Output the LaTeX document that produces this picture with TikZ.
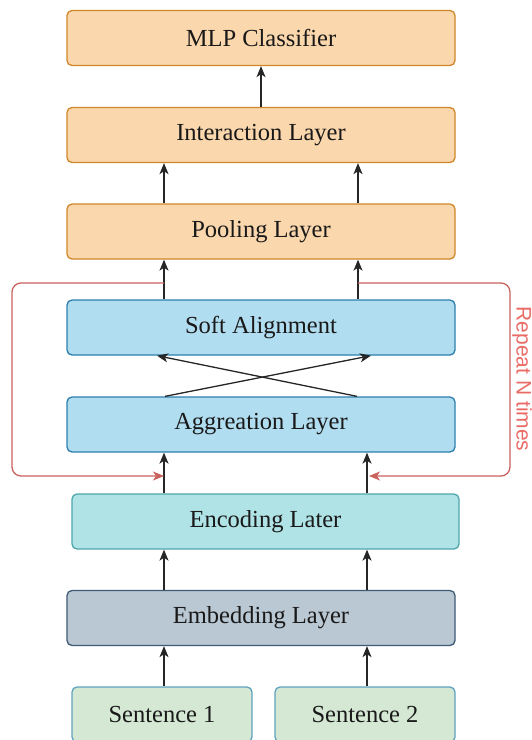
\documentclass[tikz,border=0pt]{standalone}
\usepackage{fontspec}
\setmainfont{Liberation Serif}
\newfontfamily\repfont{Liberation Sans}
\usetikzlibrary{arrows.meta}
\definecolor{orfill}{HTML}{FAD7AC}
\definecolor{ordraw}{HTML}{D0862A}
\definecolor{blfill}{HTML}{B1DDF0}
\definecolor{bldraw}{HTML}{2C7FAD}
\definecolor{tlfill}{HTML}{B0E3E6}
\definecolor{tldraw}{HTML}{4FA6AC}
\definecolor{gyfill}{HTML}{BAC8D3}
\definecolor{gydraw}{HTML}{3E5A74}
\definecolor{gnfill}{HTML}{D5E8D4}
\definecolor{gndraw}{HTML}{5FA2C0}
\definecolor{redline}{HTML}{C9615D}
\definecolor{redtext}{HTML}{EA6B66}
\tikzset{
  layer/.style={rectangle, rounded corners=5pt, line width=1.3pt, minimum height=55pt, inner sep=0pt, font=\fontsize{24.5}{28}\selectfont, text=black!90},
  orbox/.style={layer, fill=orfill, draw=ordraw, minimum width=388pt},
  blbox/.style={layer, fill=blfill, draw=bldraw, minimum width=388pt},
  tlbox/.style={layer, fill=tlfill, draw=tldraw, minimum width=387pt},
  gybox/.style={layer, fill=gyfill, draw=gydraw, minimum width=388pt},
  gnbox/.style={layer, fill=gnfill, draw=gndraw, minimum width=180pt},
  arr/.style={line width=1.3pt, black!85, -{Stealth[length=11pt,width=9pt,inset=3pt]}},
  rarr/.style={line width=1.3pt, redline, rounded corners=9pt, -{Stealth[length=11pt,width=9pt,inset=3pt]}}
}
\begin{document}
\begin{tikzpicture}[x=1pt,y=-1pt]
\useasboundingbox (0,0) rectangle (532,740);
\begin{scope}
\clip (0,0) rectangle (532,740);
\node[orbox] (mlp) at (261,38) {MLP Classifier};
\node[orbox] (inter) at (261,135) {Interaction Layer};
\node[orbox] (pool) at (261,231.5) {Pooling Layer};
\node[blbox] (soft) at (261,327.5) {Soft Alignment};
\node[blbox] (agg) at (261,424.5) {Aggreation Layer};
\node[tlbox] (enc) at (265.5,521.5) {Encoding Later};
\node[gybox] (emb) at (261,618) {Embedding Layer};
\node[gnbox] (s1) at (162,714.5) {Sentence 1};
\node[gnbox] (s2) at (365,714.5) {Sentence 2};
\end{scope}
% straight arrows
\draw[arr] (164,0 |- s1.north) -- (164,0 |- emb.south);
\draw[arr] (367,0 |- s2.north) -- (367,0 |- emb.south);
\draw[arr] (164,0 |- emb.north) -- (164,0 |- enc.south);
\draw[arr] (367,0 |- emb.north) -- (367,0 |- enc.south);
\draw[arr] (164,0 |- enc.north) -- (164,0 |- agg.south);
\draw[arr] (367,0 |- enc.north) -- (367,0 |- agg.south);
\draw[arr] (165,0 |- agg.north) -- (371,0 |- soft.south);
\draw[arr] (357,0 |- agg.north) -- (157,0 |- soft.south);
\draw[arr] (164,0 |- soft.north) -- (164,0 |- pool.south);
\draw[arr] (358,0 |- soft.north) -- (358,0 |- pool.south);
\draw[arr] (164,0 |- pool.north) -- (164,0 |- inter.south);
\draw[arr] (358,0 |- pool.north) -- (358,0 |- inter.south);
\draw[arr] (inter.north) -- (mlp.south);
% repeat loop
\coordinate (lstart) at (164,283);
\coordinate (lend) at (164,476);
\coordinate (rstart) at (358,283);
\coordinate (rend) at (369,476);
\draw[rarr] (lstart) -- (12,283) -- (12,476) -- (lend);
\draw[rarr] (rstart) -- (510,283) -- (510,476) -- (rend);
\node[rotate=-90, anchor=base, text=redtext, font=\repfont\fontsize{21}{23}\selectfont, inner sep=0pt] (rep) at (516.5,379) {Repeat N times};
\end{tikzpicture}
\end{document}
